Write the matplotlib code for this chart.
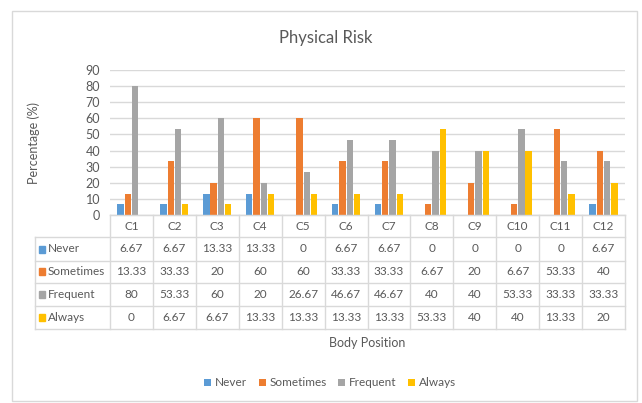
import matplotlib.pyplot as plt
import matplotlib.transforms as mtransforms
from matplotlib.patches import Rectangle
import numpy as np

plt.rcParams['font.family'] = ['Lato', 'DejaVu Sans']

positions = ['C1', 'C2', 'C3', 'C4', 'C5', 'C6', 'C7', 'C8', 'C9', 'C10', 'C11', 'C12']
never = [6.67, 6.67, 13.33, 13.33, 0, 6.67, 6.67, 0, 0, 0, 0, 6.67]
sometimes = [13.33, 33.33, 20, 60, 60, 33.33, 33.33, 6.67, 20, 6.67, 53.33, 40]
frequent = [80, 53.33, 60, 20, 26.67, 46.67, 46.67, 40, 40, 53.33, 33.33, 33.33]
always = [0, 6.67, 6.67, 13.33, 13.33, 13.33, 13.33, 53.33, 40, 40, 13.33, 20]

series = ['Never', 'Sometimes', 'Frequent', 'Always']
values = [never, sometimes, frequent, always]
colors = ['#5B9BD5', '#ED7D31', '#A5A5A5', '#FFC000']
txt = '#595959'
line_c = '#D9D9D9'

W, H = 642, 403
fig = plt.figure(figsize=(W / 100, H / 100), dpi=100)

def fy(py):
    return 1 - py / H

def fx(px):
    return px / W

# chart frame
fig.patches.append(Rectangle((fx(12), fy(401)), fx(625), (401 - 11) / H,
                             transform=fig.transFigure, fill=False,
                             edgecolor=line_c, lw=1))

ax = fig.add_axes([fx(110), fy(215), fx(515), 145 / H])
x = np.arange(len(positions))
step, bw = 0.17, 0.147
for i, (name, vals, c) in enumerate(zip(series, values, colors)):
    ax.bar(x + (i - 1.5) * step, vals, width=bw, color=c, label=name, zorder=3)

ax.set_xlim(-0.5, len(positions) - 0.5)
ax.set_ylim(0, 90)
ax.set_yticks(range(0, 91, 10))
ax.tick_params(axis='y', length=0, labelsize=9, labelcolor=txt, pad=7)
ax.set_xticks([])
ax.yaxis.grid(True, color=line_c, lw=1, zorder=0)
for s in ['top', 'right', 'left']:
    ax.spines[s].set_visible(False)
ax.spines['bottom'].set_color(line_c)
ax.set_ylabel('Percentage (%)', color=txt, fontsize=9)
ax.yaxis.set_label_coords(fx(40 - 110) / fx(515), 0.5)

fig.text(fx(326), fy(38), 'Physical Risk', ha='center', va='center',
         color=txt, fontsize=12)

# data table under the bars
tr = mtransforms.blended_transform_factory(ax.transData, fig.transFigure)
rows = [215, 237.5, 260.5, 283, 306, 329]
for k, py in enumerate(rows):
    x0 = 110 if k == 0 else 35
    fig.add_artist(plt.Line2D([fx(x0), fx(625)], [fy(py), fy(py)],
                              transform=fig.transFigure, color=line_c, lw=1))
for b in np.arange(len(positions) + 1) - 0.5:
    fig.add_artist(plt.Line2D([b, b], [fy(rows[0]), fy(rows[-1])],
                              transform=tr, color=line_c, lw=1))
fig.add_artist(plt.Line2D([fx(35), fx(35)], [fy(rows[1]), fy(rows[-1])],
                          transform=fig.transFigure, color=line_c, lw=1))

for j, p in enumerate(positions):
    fig.text(j, fy((rows[0] + rows[1]) / 2), p, transform=tr, ha='center',
             va='center', color=txt, fontsize=8.5)
for i, (name, vals, c) in enumerate(zip(series, values, colors)):
    yc = fy((rows[i + 1] + rows[i + 2]) / 2)
    fig.patches.append(Rectangle((fx(39), yc - 3.5 / H), 6 / W, 7 / H,
                                 transform=fig.transFigure, color=c))
    fig.text(fx(48), yc, name, ha='left', va='center', color=txt, fontsize=8.5)
    for j, v in enumerate(vals):
        fig.text(j, yc, f'{v:g}', transform=tr, ha='center', va='center',
                 color=txt, fontsize=8.5)

fig.text(fx(367), fy(343), 'Body Position', ha='center', va='center',
         color=txt, fontsize=9)

fig.legend(loc='center', bbox_to_anchor=(fx(330), fy(383)), ncol=4, frameon=False,
           fontsize=8.5, labelcolor=txt, handlelength=0.6, handleheight=0.6,
           handletextpad=0.3, columnspacing=1.0)

fig.savefig('out.png', dpi=100)
